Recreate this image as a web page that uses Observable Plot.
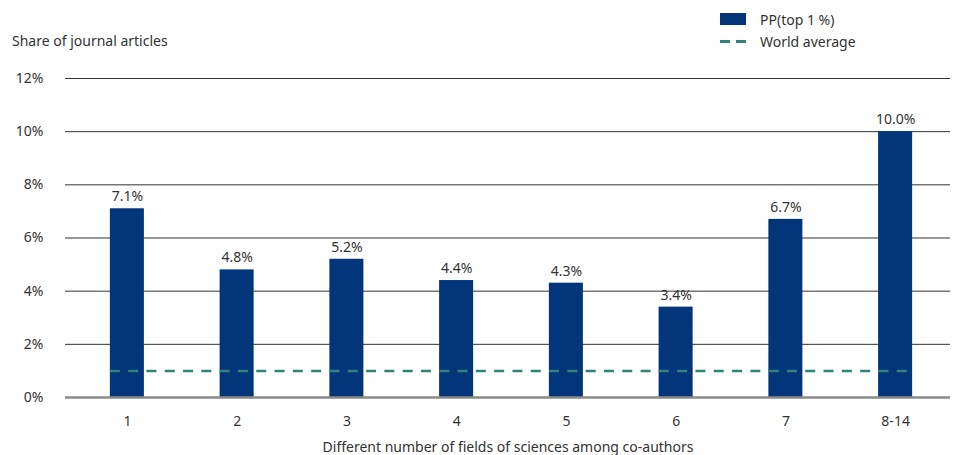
<!DOCTYPE html>
<html>
<head>
<meta charset="utf-8">
<script src="https://cdn.jsdelivr.net/npm/d3@7"></script>
<script src="https://cdn.jsdelivr.net/npm/@observablehq/plot@0.6"></script>
<style>
  html, body { margin: 0; padding: 0; background: #fff; }
  body { width: 955px; height: 455px; position: relative; overflow: hidden; font-family: "Noto Sans", sans-serif; color: #333; }
  #chart { position: absolute; left: 0; top: 0; }
  .ytitle { position: absolute; left: 12px; top: 31px; font-size: 14px; color: #333; }
  .legend { position: absolute; left: 720px; top: 8px; font-size: 14px; color: #333; }
  .legend .row { display: flex; align-items: center; height: 22px; }
  .legend .sw { width: 26px; height: 12px; background: #03357a; margin-right: 14px; }
  .legend .dash { width: 26px; height: 12px; margin-right: 14px; position: relative; }
  .legend .dash::before, .legend .dash::after { content: ""; position: absolute; top: 5px; width: 10px; height: 2.5px; background: #2f837f; }
  .legend .dash::before { left: 0; }
  .legend .dash::after { left: 16px; }
</style>
</head>
<body>
<div id="chart"></div>
<div class="ytitle">Share of journal articles</div>
<div class="legend">
  <div class="row"><div class="sw"></div><span>PP(top 1 %)</span></div>
  <div class="row"><div class="dash"></div><span>World average</span></div>
</div>
<script>
const categories = ["1", "2", "3", "4", "5", "6", "7", "8-14"];
const values = [7.1, 4.8, 5.2, 4.4, 4.3, 3.4, 6.7, 10.0];
const worldAverage = 1.0;
const yTicks = [0, 2, 4, 6, 8, 10, 12];

const data = categories.map((c, i) => ({category: c, value: values[i]}));

const plot = Plot.plot({
  width: 955,
  height: 455,
  marginTop: 78,
  marginBottom: 58,
  marginLeft: 65,
  marginRight: 5,
  style: {fontFamily: "'Noto Sans', sans-serif", fontSize: "14px", color: "#333", background: "#fff"},
  x: {domain: categories, paddingInner: 0.69, paddingOuter: 0.345, insetLeft: 7, round: false},
  y: {domain: [0, 12]},
  marks: [
    Plot.ruleY(yTicks.filter(d => d > 0), {stroke: "#333", strokeWidth: 1, strokeOpacity: 1}),
    Plot.barY(data, {x: "category", y: "value", fill: "#03357a"}),
    Plot.ruleY([0], {stroke: "#8a8a8a", strokeWidth: 2.5}),
    Plot.ruleY([worldAverage], {x1: () => categories[0], x2: () => categories[categories.length - 1], stroke: "#2f837f", strokeWidth: 2.5, strokeDasharray: "10,8.3"}),
    Plot.text(data, {x: "category", y: "value", text: d => d.value.toFixed(1) + "%", dy: -12, fill: "#333", fontSize: 14}),
    Plot.axisY({ticks: yTicks, tickSize: 0, tickPadding: 22, tickFormat: d => d + "%", label: null, fontSize: 14}),
    Plot.axisX({tickSize: 0, tickPadding: 19, label: "Different number of fields of sciences among co-authors", labelAnchor: "center", labelOffset: 54, labelArrow: "none", fontSize: 14})
  ]
});
document.getElementById("chart").appendChild(plot);
</script>
</body>
</html>
